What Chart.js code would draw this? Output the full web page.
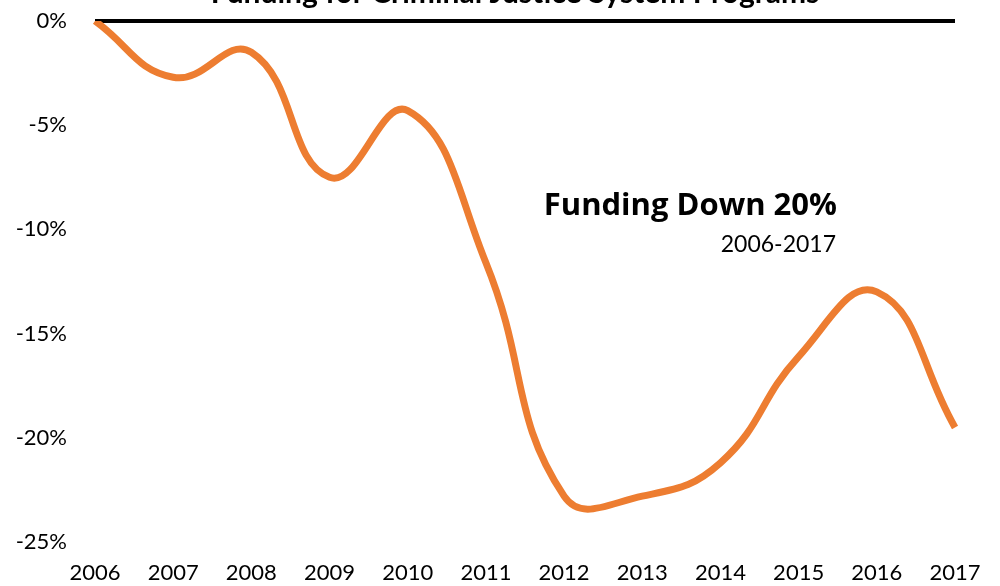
<!DOCTYPE html>
<html>
<head>
<meta charset="utf-8">
<script src="https://cdn.jsdelivr.net/npm/chart.js@4"></script>
<style>
  html, body { margin: 0; padding: 0; background: #fff; }
</style>
</head>
<body>
<canvas id="chart" width="1000" height="586"></canvas>
<script>
const years = ["2006", "2007", "2008", "2009", "2010", "2011", "2012", "2013", "2014", "2015", "2016", "2017"];
const fundingChange = [0, -2.7, -1.5, -7.5, -4.3, -11.6, -22.8, -22.8, -21.2, -16.1, -13.0, -19.5];
const yTicks = [0, -5, -10, -15, -20, -25];

const titleText = "Funding for Criminal Justice System Programs";
const noteTitle = "Funding Down 20%";
const noteSub = "2006-2017";

const FONT = "Lato, 'Open Sans', sans-serif";

// text drawn straight onto the canvas: cut-off heading and the note
const textPlugin = {
  id: "texts",
  afterDraw(chart) {
    const c = chart.ctx;
    c.save();
    c.fillStyle = "#000";
    c.textBaseline = "alphabetic";
    c.textAlign = "center";
    c.font = "bold 30px " + FONT;
    c.fillText(titleText, 515, 3);
    c.textAlign = "right";
    c.font = "bold 31px 'Open Sans', sans-serif";
    c.fillText(noteTitle, 837, 215);
    c.font = "23px " + FONT;
    c.fillText(noteSub, 836, 252);
    c.restore();
  }
};

new Chart(document.getElementById("chart").getContext("2d"), {
  type: "line",
  data: {
    labels: years,
    datasets: [{
      data: fundingChange,
      borderColor: "#ED7D31",
      borderWidth: 7,
      pointRadius: 0,
      tension: 0.45,
      fill: false,
    }],
  },
  options: {
    responsive: false,
    animation: false,
    layout: { padding: { top: 21, right: 45, bottom: 0, left: 0 } },
    plugins: { legend: { display: false }, tooltip: { enabled: false } },
    scales: {
      x: {
        offset: false,
        afterFit(scale) {
          scale.height = 44;
          scale.paddingBottom = 0;
        },
        grid: { display: false, drawTicks: false },
        border: { display: false },
        ticks: { color: "#000", font: { family: FONT, size: 22 }, padding: 18, maxRotation: 0, autoSkip: false },
      },
      y: {
        min: -25,
        max: 0,
        afterBuildTicks(scale) { scale.ticks = yTicks.map((v) => ({ value: v })); },
        afterFit(scale) {
          scale.width = 95;
          scale.paddingTop = 0;
          scale.paddingBottom = 0;
        },
        border: { display: false },
        grid: {
          drawTicks: false,
          color: (ctx) => (ctx.tick && ctx.tick.value === 0 ? "#000" : "rgba(0,0,0,0)"),
          lineWidth: 4,
        },
        ticks: {
          color: "#000",
          padding: 28,
          font: { family: FONT, size: 22 },
          callback: (v) => v + "%",
        },
      },
    },
  },
  plugins: [textPlugin],
});
</script>
</body>
</html>
